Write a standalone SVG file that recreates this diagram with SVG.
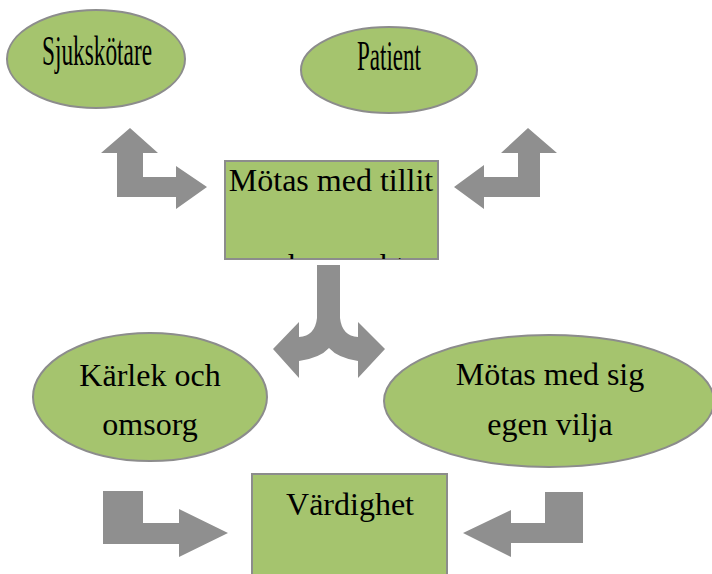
<svg xmlns="http://www.w3.org/2000/svg" width="712" height="574" viewBox="0 0 712 574">
<style>
.n{fill:#A5C46E;stroke:#8C8C8C;stroke-width:2}
.a{fill:#8F8F8F}
</style>
<defs>
<clipPath id="c1"><rect x="225" y="161" width="213" height="98"/></clipPath>
</defs>
<rect width="712" height="574" fill="#fff"/>
<g font-family="'Liberation Serif', 'Times New Roman', 'DejaVu Serif', serif" font-size="32" fill="#000" text-anchor="middle">
<g id="sjukskotare">
<ellipse class="n" cx="96" cy="59" rx="89" ry="49"/>
<text x="97" y="65" font-size="42" textLength="110" lengthAdjust="spacingAndGlyphs">Sjukskötare</text>
</g>
<g id="patient">
<ellipse class="n" cx="389" cy="70" rx="88" ry="43"/>
<text x="389" y="70" font-size="42" textLength="64" lengthAdjust="spacingAndGlyphs">Patient</text>
</g>
<g id="motas-tillit">
<rect class="n" x="225" y="161" width="213" height="98"/>
<text x="331" y="191">Mötas med tillit</text>
<text x="331" y="276" clip-path="url(#c1)">och respekt</text>
</g>
<g id="karlek">
<ellipse class="n" cx="150" cy="397" rx="117" ry="64"/>
<text x="150" y="386">Kärlek och</text>
<text x="150" y="435">omsorg</text>
</g>
<g id="motas-vilja">
<ellipse class="n" cx="549" cy="401" rx="165" ry="66"/>
<text x="550" y="385">Mötas med sig</text>
<text x="550" y="435">egen vilja</text>
</g>
<g id="vardighet">
<rect class="n" x="252" y="474" width="195" height="110"/>
<text x="350" y="515">Värdighet</text>
</g>
</g>
<g id="connectors">
<polygon class="a" points="130,128 158,153 143,153 143,177 176,177 176,166 207,187 176,209 176,197 117,197 117,153 101,153"/>
<polygon class="a" points="528,128 557,153 540,153 540,197 484,197 484,209 454,187 484,165 484,177 518,177 518,153 501,153"/>
<path class="a" d="M317,265 L340,265 L340,318 Q342,336 358,337 L358,322 L385,349 L358,378 L358,361 Q338,358 329,348 Q320,358 299,361 L299,378 L273,349 L299,322 L299,337 Q315,336 317,318 Z"/>
<polygon class="a" points="103,491 143,491 143,523 179,523 179,509 228,533 179,557 179,544 103,544"/>
<polygon class="a" points="545,492 583,492 583,543 511,543 511,557 463,533 511,510 511,523 545,523"/>
</g>
</svg>
